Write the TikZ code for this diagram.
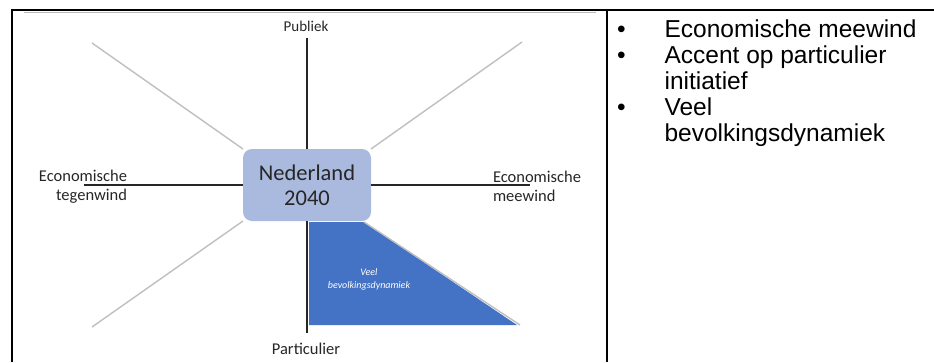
\documentclass[tikz,border=0pt]{standalone}
\usepackage{fontspec}
\setmainfont{Liberation Sans}
\newfontfamily\calibri{Carlito}
\usetikzlibrary{calc}

\definecolor{boxblue}{HTML}{AAB9DE}
\definecolor{triblue}{HTML}{4472C4}
\definecolor{spokegray}{HTML}{BFBFBF}
\definecolor{axisgray}{HTML}{262626}

\begin{document}
\begin{tikzpicture}[x=1pt,y=-1pt,inner sep=0pt,outer sep=0pt,
    every node/.style={font=\calibri},
    axislabel/.style={font=\calibri\fontsize{16.5}{19.5}\selectfont,text=axisgray},
    axisline/.style={draw=axisgray,line width=1.6pt},
    spokeline/.style={draw=spokegray,line width=1.4pt},
    frameline/.style={line width=2pt}]
    \useasboundingbox (0,0) rectangle (934,362);
    % 
    \draw[gray!55,line width=1pt] (24,12) -- (596,12);
    \draw[frameline] (12,362) -- (12,10) -- (934,10);
    \draw[frameline] (607,10) -- (607,362);

    \coordinate (ul) at (92,43);
    \coordinate (ur) at (522,42);
    \coordinate (ll) at (92,327);
    \coordinate (lr) at (520,325);
    \coordinate (top_end) at (307,38);
    \coordinate (bot_end) at (307,333);
    \coordinate (left_end) at (84,185);
    \coordinate (right_end) at (530,185);
    \coordinate (tri_top) at (364,222);

    \fill[triblue] (309,222) -- (tri_top) -- (517,325) -- (309,325) -- cycle;

	\node[fill=boxblue,rounded corners=9pt,minimum width=128pt,minimum height=72pt,
      align=center,text=axisgray,font=\calibri\fontsize{22.5}{25}\selectfont] (nl) at (307,185)
    {Nederland\\2040};

    \draw[spokeline] (nl.north west) -- (ul);
    \draw[spokeline] (nl.north east) -- (ur);
    \draw[spokeline] (nl.south west) -- (ll);
    \draw[spokeline] (tri_top) -- (lr);

    \draw[axisline] (nl.north) -- (top_end);
    \draw[axisline] (nl.south) -- (bot_end);
    \draw[axisline] (nl.west) -- (left_end);
    \draw[axisline] (nl.east) -- (right_end);

    \node[axislabel,font=\calibri\fontsize{15}{18}\selectfont] (publiek) at (306,26) {Publiek};
    \node[axislabel] (particulier) at (306,349) {Particulier};
    \node[axislabel,align=right,anchor=east] (tegenwind) at (127,186.5) {Economische\\tegenwind};
    \node[axislabel,align=left,anchor=west] (meewind) at (493,186.5) {Economische\\meewind};
    \node[text=white,align=center,font=\calibri\itshape\fontsize{10}{13}\selectfont] (veel) at (369,279)
    {Veel\\bevolkingsdynamiek};

    % 
	\node[anchor=base west,font=\fontsize{24.5}{26}\selectfont] (bullets) at (617,37)
    {
    \begin{tabular}[t]{@{}l@{\hspace{39pt}}l@{}}
    \textbullet & Economische meewind \\
    \textbullet & Accent op particulier \\
                & initiatief \\
    \textbullet & Veel \\
                & bevolkingsdynamiek \\
    \end{tabular}
    };

\end{tikzpicture}
\end{document}
